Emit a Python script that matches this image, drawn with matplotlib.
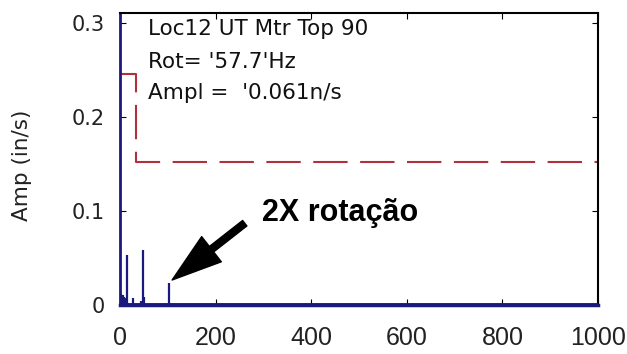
import numpy as np
import matplotlib.pyplot as plt

# spectrum peaks (frequency, amplitude in in/s)
freq = [2, 4, 6, 8, 10, 12, 15, 28, 44, 48, 51, 103]
amp = [0.012, 0.010, 0.011, 0.008, 0.007, 0.005, 0.053, 0.007, 0.004, 0.058, 0.008, 0.023]

# alarm limit (red dashed step)
limit_x = [0, 34, 34, 1000]
limit_y = [0.246, 0.246, 0.152, 0.152]

xticks = [0, 200, 400, 600, 800, 1000]
yticks = [0, 0.1, 0.2, 0.3]

navy = '#1a1a7e'
red = '#b0303c'

plt.rcParams['font.family'] = ['DejaVu Sans']

fig = plt.figure(figsize=(6.27, 3.54), dpi=100)
ax = fig.add_axes([0.1914, 0.1384, 0.7623, 0.8249])

ax.plot(limit_x, limit_y, color=red, lw=1.5, dashes=(16.5, 6))
ax.vlines(freq, 0, amp, color=navy, lw=1.6)
ax.axhline(0, color=navy, lw=3.5, zorder=3)

ax.set_xlim(0, 1000)
ax.set_ylim(0, 0.3106)
ax.set_xticks(xticks)
ax.set_yticks(yticks)
ax.set_xticklabels([str(v) for v in xticks], fontsize=18,
                   family='Liberation Sans')
ax.set_yticklabels(['0', '0.1', '0.2', '0.3'], fontsize=15)
ax.tick_params(direction='in', length=4, top=True, right=True,
               labelcolor='#222222')
ax.tick_params(axis='x', pad=15)
ax.tick_params(axis='y', pad=11)

for s in ['top', 'right']:
    ax.spines[s].set_color('black')
    ax.spines[s].set_linewidth(1.5)
ax.spines['left'].set_color(navy)
ax.spines['left'].set_linewidth(2)
ax.spines['bottom'].set_color(navy)
ax.spines['bottom'].set_linewidth(2.5)

ax.set_ylabel('Amp (in/s)', fontsize=15.5, color='#222222')
ax.yaxis.set_label_coords(-0.185, 0.48)

ax.text(0.058, 0.945, 'Loc12 UT Mtr Top 90', transform=ax.transAxes,
        fontsize=15.5, va='center', color='#111111')
ax.text(0.058, 0.832, "Rot= '57.7'Hz", transform=ax.transAxes,
        fontsize=15.5, va='center', color='#111111')
ax.text(0.058, 0.726, "Ampl =  '0.061n/s", transform=ax.transAxes,
        fontsize=15.5, va='center', color='#111111')

ax.annotate('', xy=(109, 0.0266), xytext=(261, 0.087),
            arrowprops=dict(facecolor='black', edgecolor='black',
                            width=5, headwidth=23, headlength=36, shrink=0))
ax.text(297, 0.098, '2X rotação', fontsize=22, fontweight='bold',
        family='Liberation Sans', va='center', ha='left', color='black')

fig.savefig('out.png', dpi=100)
